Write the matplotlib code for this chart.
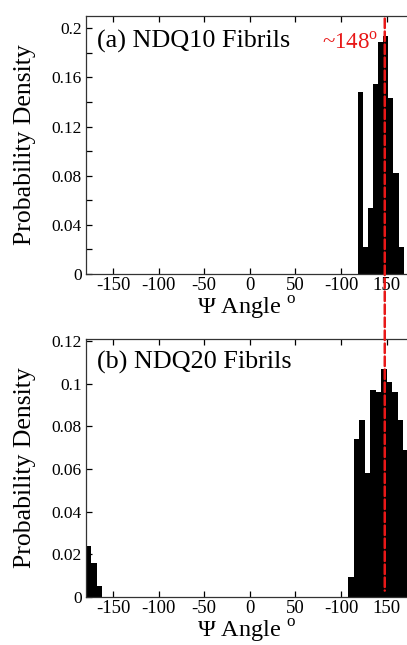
import matplotlib
matplotlib.use("Agg")
import matplotlib.pyplot as plt
from matplotlib.patches import ConnectionPatch
import numpy as np

plt.rcParams['font.family'] = ['Liberation Serif', 'DejaVu Serif']
plt.rcParams['mathtext.fontset'] = 'custom'
plt.rcParams['mathtext.rm'] = 'Liberation Serif'

# ---- data ----
# panel (a): NDQ10 fibrils, bins of 5.625 deg
a_left_edges = [118.125, 123.75, 129.375, 135.0, 140.625, 146.25, 151.875, 157.5, 163.125]
a_width = 5.625
a_density = [0.148, 0.022, 0.054, 0.155, 0.189, 0.194, 0.143, 0.082, 0.022]

# panel (b): NDQ20 fibrils, bins of 6 deg
b_left_edges = [-180, -174, -168,
                108, 114, 120, 126, 132, 138, 144, 150, 156, 162, 168]
b_width = 6.0
b_density = [0.024, 0.016, 0.005,
             0.0095, 0.074, 0.083, 0.058, 0.097, 0.096, 0.107, 0.101, 0.096, 0.083, 0.069]

xtick_pos = [-150, -100, -50, 0, 50, 100, 150]
xtick_labels = ['-150', '-100', '-50', '0', '50', '-100', '150']
a_yticks = [0, 0.04, 0.08, 0.12, 0.16, 0.2]
a_ytick_labels = ['0', '0.04', '0.08', '0.12', '0.16', '0.2']
b_yticks = [0, 0.02, 0.04, 0.06, 0.08, 0.1, 0.12]
b_ytick_labels = ['0', '0.02', '0.04', '0.06', '0.08', '0.1', '0.12']
peak_angle = 148

fig = plt.figure(figsize=(4.07, 6.45), dpi=100)
W, H = 407, 645
left = 85.7 / W
ax1 = fig.add_axes([left, 1 - 274 / H, 1 - left, (274 - 15.7) / H])
ax2 = fig.add_axes([left, 1 - 597 / H, 1 - left, (597 - 339) / H])

ax1.bar(a_left_edges, a_density, width=a_width, align='edge', color='black', linewidth=0)
ax2.bar(b_left_edges, b_density, width=b_width, align='edge', color='black', linewidth=0)

for ax in (ax1, ax2):
    ax.set_xlim(-180, 172.4)
    ax.set_xticks(xtick_pos)
    ax.set_xticklabels(xtick_labels, fontsize=13.5)
    ax.spines['right'].set_visible(False)
    for s in ('left', 'top', 'bottom'):
        ax.spines[s].set_linewidth(0.9)
        ax.spines[s].set_color('#333333')
    ax.tick_params(axis='x', direction='in', top=True, bottom=True, length=4, width=0.9, pad=2)
    ax.tick_params(axis='y', direction='in', left=True, right=False, length=4, width=0.9, labelsize=12.5, pad=3)
    ax.tick_params(axis='y', which='minor', direction='in', length=4, width=0.9)
    ax.set_xlabel('Ψ Angle $^{\\mathrm{o}}$', fontsize=17.5, labelpad=0.5)
    ax.set_ylabel('Probability Density', fontsize=18.5, labelpad=11)

ax1.set_ylim(0, 0.2103)
ax1.set_yticks(a_yticks)
ax1.set_yticklabels(a_ytick_labels)
ax1.set_yticks([0.02, 0.06, 0.10, 0.14, 0.18], minor=True)

ax2.set_ylim(0, 0.121)
ax2.set_yticks(b_yticks)
ax2.set_yticklabels(b_ytick_labels)

ax1.text(0.035, 0.9, '(a) NDQ10 Fibrils', transform=ax1.transAxes, fontsize=18.8, va='center', ha='left')
ax2.text(0.035, 0.91, '(b) NDQ20 Fibrils', transform=ax2.transAxes, fontsize=18.8, va='center', ha='left')
ax1.text(140.5, 0.188, '~148$^{\\mathrm{o}}$', color='#e81818', fontsize=16.5, va='center', ha='right')

con = ConnectionPatch(xyA=(peak_angle, 0.208), coordsA=ax1.transData,
                      xyB=(peak_angle, 0.003), coordsB=ax2.transData,
                      color='#e81818', linewidth=1.8, linestyle=(0, (3.8, 1.4)), zorder=10)
fig.add_artist(con)

fig.savefig('out.png', dpi=100)
